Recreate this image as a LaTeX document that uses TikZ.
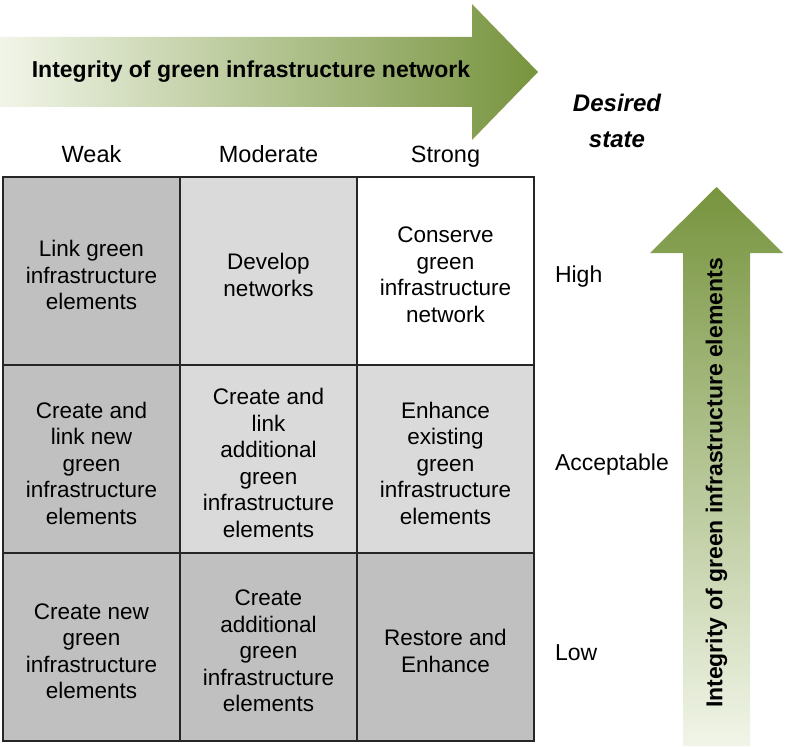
\documentclass[tikz,border=0pt]{standalone}
\usepackage{fontspec}
\setmainfont{Liberation Sans}
\usepackage{tikz}
\usetikzlibrary{positioning}
\definecolor{gidark}{RGB}{119,148,62}
\definecolor{gilight}{RGB}{241,245,232}
\definecolor{celldark}{RGB}{192,192,192}
\definecolor{celllight}{RGB}{218,218,218}

\begin{document}
\begin{tikzpicture}
		[
		x=1pt, y=-1pt,
		every node/.style={inner sep=0pt, outer sep=0pt},
		cell/.style={draw=black!85, line width=1.3pt, minimum width=177pt, minimum height=188pt,
			text width=172pt, align=center, font=\fontsize{22.5}{26.5}\selectfont},
		dark/.style={cell, fill=celldark},
		light/.style={cell, fill=celllight},
		plain/.style={cell, fill=white},
		celltext/.style={align=center, font=\fontsize{22.5}{26.5}\selectfont},
		colhead/.style={font=\fontsize{23.5}{26}\selectfont, anchor=base},
		rowhead/.style={font=\fontsize{23}{26}\selectfont, anchor=west, yshift=-6pt},
		arrowtext/.style={font=\bfseries\fontsize{23}{26}\selectfont}
		]
		\useasboundingbox (0,0) rectangle (786,746);
		
		\shade[left color=gilight, right color=gidark] (0,37) -- (472,37) -- (472,4) -- (538,72) -- (472,140) -- (472,107) -- (0,107) -- cycle;
		\node[arrowtext] (netlabel) at (251,72) {Integrity of green infrastructure network};
		
		\shade[bottom color=gilight, top color=gidark] (683,746) -- (683,253) -- (650,253) -- (716.5,187) -- (783,253) -- (750,253) -- (750,746) -- cycle;
		\node[arrowtext, rotate=90] (elemlabel) at (716.5,483) {Integrity of green infrastructure elements};
		
		\node[align=center, font=\bfseries\itshape\fontsize{24}{36}\selectfont] (desired) at (617,121) {Desired\\state};
		
		\node[dark] (wh) at (91.5,271) {};
		\node[light, right=0pt of wh] (mh) {};
		\node[plain, right=0pt of mh] (sh) {};
		\node[dark, below=0pt of wh] (wa) {};
		\node[light, right=0pt of wa] (ma) {};
		\node[light, right=0pt of ma] (sa) {};
		\node[dark, below=0pt of wa] (wl) {};
		\node[dark, right=0pt of wl] (ml) {};
		\node[dark, right=0pt of ml] (sl) {};
		
		\node[celltext] (twh) at ([yshift=-4pt]wh) {Link green\\infrastructure\\elements};
		\node[celltext] (tmh) at ([yshift=-4pt]mh) {Develop\\networks};
		\node[celltext] (tsh) at ([yshift=-4pt]sh) {Conserve\\green\\infrastructure\\network};
		\node[celltext] (twa) at ([yshift=-4pt]wa) {Create and\\link new\\green\\infrastructure\\elements};
		\node[celltext] (tma) at ([yshift=-4pt]ma) {Create and\\link\\additional\\green\\infrastructure\\elements};
		\node[celltext] (tsa) at ([yshift=-4pt]sa) {Enhance\\existing\\green\\infrastructure\\elements};
		\node[celltext] (twl) at ([yshift=-4pt]wl) {Create new\\green\\infrastructure\\elements};
		\node[celltext] (tml) at ([yshift=-4pt]ml) {Create\\additional\\green\\infrastructure\\elements};
		\node[celltext] (tsl) at ([yshift=-4pt]sl) {Restore and\\Enhance};
		
		\node[colhead] (weak) at (wh.north |- 0,163) {Weak};
		\node[colhead] (moderate) at (mh.north |- 0,163) {Moderate};
		\node[colhead] (strong) at (sh.north |- 0,163) {Strong};
		
		\node[rowhead, right=21pt of sh] (high) {High};
		\node[rowhead, right=21pt of sa] (acceptable) {Acceptable};
		\node[rowhead, right=21pt of sl] (low) {Low};
\end{tikzpicture}
\end{document}
